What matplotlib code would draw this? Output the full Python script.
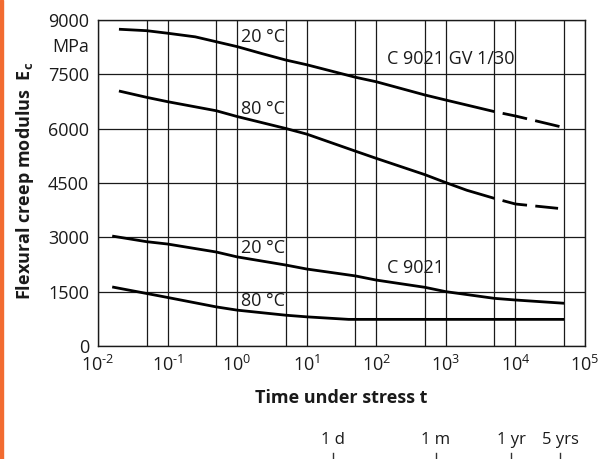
import matplotlib
matplotlib.use("Agg")
import matplotlib.pyplot as plt
from matplotlib.patches import Rectangle
from matplotlib.ticker import NullFormatter
import matplotlib.transforms as mtransforms

plt.rcParams['font.family'] = ['Open Sans', 'DejaVu Sans']
plt.rcParams['mathtext.fontset'] = 'custom'
plt.rcParams['mathtext.rm'] = 'Open Sans'
plt.rcParams['mathtext.it'] = 'Open Sans:italic'
plt.rcParams['mathtext.bf'] = 'Open Sans:bold'

# ---- data (time in hours, modulus in MPa) ----
gv20_t = [0.02, 0.05, 0.1, 0.25, 0.5, 1, 2.2, 5, 10, 50, 100, 500, 1000, 5000]
gv20_e = [8745, 8705, 8635, 8535, 8400, 8265, 8080, 7895, 7765, 7420, 7295, 6930, 6790, 6470]
gv20_dash_t = [5000, 10000, 44000]
gv20_dash_e = [6470, 6350, 6055]

gv80_t = [0.02, 0.05, 0.1, 0.5, 1, 5, 10, 50, 100, 500, 1000, 2000, 5000]
gv80_e = [7040, 6865, 6745, 6495, 6335, 6005, 5850, 5380, 5180, 4730, 4510, 4300, 4075]
gv80_dash_t = [5000, 10000, 41000]
gv80_dash_e = [4075, 3920, 3800]

c20_t = [0.016, 0.05, 0.1, 0.5, 1, 5, 10, 50, 100, 500, 1000, 5000, 10000, 50000]
c20_e = [3035, 2880, 2815, 2595, 2460, 2235, 2125, 1935, 1820, 1620, 1500, 1315, 1270, 1180]

c80_t = [0.016, 0.05, 0.1, 0.5, 1, 5, 10, 40, 50000]
c80_e = [1630, 1450, 1340, 1080, 990, 850, 805, 735, 735]

x_major = [1e-2, 1e-1, 1e0, 1e1, 1e2, 1e3, 1e4, 1e5]
x_major_labels = [r'$10^{\text{-2}}$', r'$10^{\text{-1}}$', r'$10^{0}$', r'$10^{1}$',
                  r'$10^{2}$', r'$10^{3}$', r'$10^{4}$', r'$10^{5}$']
x_minor = [5e-2, 5e-1, 5e0, 5e1, 5e2, 5e3, 5e4]
y_ticks = [0, 1500, 3000, 4500, 6000, 7500, 9000]
y_tick_labels = ['0', '1500', '3000', '4500', '6000', '7500', '9000']

sec_t = [24, 720, 8760, 43800]
sec_labels = ['1 d', '1 m', '1 yr', '5 yrs']

ink = '#1a1a1a'

fig = plt.figure(figsize=(6.06, 4.59), dpi=100)
fig.patches.append(Rectangle((0, 0), 3 / 606, 1, transform=fig.transFigure,
                             color='#f26b30', zorder=0))
ax = fig.add_axes([98 / 606, 1 - 346 / 459, 487 / 606, 326 / 459])

ax.set_xscale('log')
ax.set_xlim(1e-2, 1e5)
ax.set_ylim(0, 9000)
ax.set_xticks(x_major)
ax.set_xticklabels(x_major_labels)
ax.set_xticks(x_minor, minor=True)
ax.xaxis.set_minor_formatter(NullFormatter())
ax.set_yticks(y_ticks)
ax.set_yticklabels(y_tick_labels)
ax.grid(which='both', color=ink, lw=0.9)
ax.set_axisbelow(True)
ax.tick_params(which='both', length=0, labelsize=13, colors=ink)
ax.tick_params(axis='y', pad=6.5)
ax.tick_params(axis='x', pad=6.5)
for s in ax.spines.values():
    s.set_color(ink)
    s.set_linewidth(1.0)

lw = 2.0
ax.plot(gv20_t, gv20_e, color='black', lw=lw, solid_capstyle='butt', solid_joinstyle='round')
ax.plot(gv20_dash_t, gv20_dash_e, color='black', lw=lw, linestyle=(9, (9, 3)), dash_capstyle='butt')
ax.plot(gv80_t, gv80_e, color='black', lw=lw, solid_capstyle='butt', solid_joinstyle='round')
ax.plot(gv80_dash_t, gv80_dash_e, color='black', lw=lw, linestyle=(9, (9, 3)), dash_capstyle='butt')
ax.plot(c20_t, c20_e, color='black', lw=lw, solid_capstyle='butt', solid_joinstyle='round')
ax.plot(c80_t, c80_e, color='black', lw=lw, solid_capstyle='butt', solid_joinstyle='round')

tk = dict(fontsize=13, color=ink, ha='left', va='center')
ax.text(1.12, 8520, '20 °C', **tk)
ax.text(1.12, 6540, '80 °C', **tk)
ax.text(1.12, 2700, '20 °C', **tk)
ax.text(1.12, 1240, '80 °C', **tk)
ax.text(141, 7920, 'C 9021 GV 1/30', **tk)
ax.text(141, 2150, 'C 9021', **tk)

blend_y = mtransforms.blended_transform_factory(ax.transAxes, ax.transData)
ax.text(-0.0185, 8255, 'MPa', transform=blend_y, ha='right', va='center',
        fontsize=13, color=ink)

ax.set_ylabel(r'Flexural creep modulus  E$_{\mathbf{c}}$', fontsize=13,
              fontweight='bold', color=ink)
ax.yaxis.set_label_coords(-0.15, 0.506)
ax.yaxis.label.set_va('center')
ax.set_xlabel('Time under stress t', fontsize=13, fontweight='bold', color=ink)
ax.xaxis.set_label_coords(0.5, -0.1595)
ax.xaxis.label.set_va('center')

blend_x = mtransforms.blended_transform_factory(ax.transData, ax.transAxes)
for t, lab in zip(sec_t, sec_labels):
    ax.plot([t, t], [-0.328, -0.36], transform=blend_x, clip_on=False,
            color='#333333', lw=1.0)
    ax.text(t, -0.288, lab, transform=blend_x, ha='center', va='center',
            fontsize=12, color=ink)

fig.savefig('out.png', dpi=100)
